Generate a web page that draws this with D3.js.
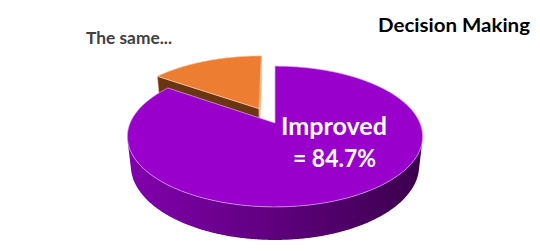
<!DOCTYPE html>
<html><head><meta charset="utf-8">
<script src="https://cdn.jsdelivr.net/npm/d3@7"></script>
<style>html,body{margin:0;padding:0;background:#fff;}svg{display:block;}</style>
</head><body>
<svg id="chart" width="540" height="251"></svg>
<script>
// ---- data ----
const categories = ["Improved", "The same..."];
const values = [84.7, 15.3];
const labelLines = [["Improved", "= 84.7%"], ["The same..."]];
const explode = [0, 0.25];
const title = "Decision Making";

// ---- projection (3D pie with perspective) ----
const W = 540, H = 251;
const cx = 275, cy = 123;
const phi = 27.9 * Math.PI / 180;
const sphi = Math.sin(phi), cphi = Math.cos(phi);
const D = 4.61, K = 668, depth = 0.23;
const rScale = d3.scaleLinear().domain([0, 1]).range([0, 1]);

function proj(X, Y, Z) {
  const d = Y * cphi - Z * sphi + D;
  const v = Y * sphi + Z * cphi;
  return [cx + K * X / d, cy - K * v / d];
}
function pt(a, r, off, Z) {
  const X = off[0] + rScale(r) * Math.sin(a);
  const Y = off[1] + rScale(r) * Math.cos(a);
  return proj(X, Y, Z);
}

const svg = d3.select("#chart");
const defs = svg.append("defs");
const g1 = defs.append("linearGradient").attr("id", "sideGrad")
  .attr("gradientUnits", "userSpaceOnUse").attr("x1", 128).attr("x2", 422).attr("y1", 0).attr("y2", 0);
g1.append("stop").attr("offset", 0).attr("stop-color", "#8200ad");
g1.append("stop").attr("offset", 0.45).attr("stop-color", "#620082");
g1.append("stop").attr("offset", 1).attr("stop-color", "#3b004c");

const topColors = ["#9900cc", "#ed7d31"];
const sideColors = ["url(#sideGrad)", "#6b3413"];

const pie = d3.pie().sort(null).value(d => d).startAngle(0).endAngle(2 * Math.PI);
const arcs = pie(values).map((a, i) => {
  const mid = (a.startAngle + a.endAngle) / 2;
  const off = [explode[i] * Math.sin(mid), explode[i] * Math.cos(mid)];
  return Object.assign(a, { i, off });
});

function polyPath(points) {
  return d3.line()(points) + "Z";
}
function rimPoints(a0, a1, off, Z) {
  const n = Math.max(2, Math.ceil((a1 - a0) / 0.01));
  const pts = [];
  for (let k = 0; k <= n; k++) pts.push(pt(a0 + (a1 - a0) * k / n, 1, off, Z));
  return pts;
}

// draw far slices first (orange), then purple
const order = [1, 0];
order.forEach(idx => {
  const a = arcs[idx];
  const gg = svg.append("g");
  const off = a.off;
  const apexT = proj(off[0], off[1], 0), apexB = proj(off[0], off[1], -depth);
  // radial faces: visible if facing the camera
  [[a.endAngle, +1], [a.startAngle, -1]].forEach(([ang, sgn]) => {
    // normal of face at angle ang
    const nx = sgn * Math.cos(ang), ny = -sgn * Math.sin(ang);
    const camY = -D * cphi;
    const px = off[0], py = off[1];
    const dot = nx * (0 - px) + ny * (camY - py);
    if (dot > 0.001 && (a.endAngle - a.startAngle) < Math.PI) {
      const rt = pt(ang, 1, off, 0), rb = pt(ang, 1, off, -depth);
      gg.append("path").attr("d", polyPath([apexT, rt, rb, apexB]))
        .attr("fill", idx === 1 ? (sgn > 0 ? "#f3a26c" : sideColors[1]) : sideColors[0])
        .attr("stroke", idx === 1 ? "#f6c7a5" : "#c98ee0").attr("stroke-width", 0.6);
    }
  });
  // outer curved side, front-facing portion
  const lim = Math.acos(-1 / (D * cphi));
  const lo = Math.max(a.startAngle, lim), hi = Math.min(a.endAngle, 2 * Math.PI - lim);
  if (hi > lo) {
    const topR = rimPoints(lo, hi, off, 0);
    const botR = rimPoints(lo, hi, off, -depth).reverse();
    gg.append("path").attr("d", polyPath(topR.concat(botR)))
      .attr("fill", sideColors[idx]);
  }
  // top face
  const rim = rimPoints(a.startAngle, a.endAngle, off, 0);
  gg.append("path").attr("d", polyPath([apexT].concat(rim)))
    .attr("fill", topColors[idx])
    .attr("stroke", idx === 0 ? "#dcaaf0" : "#f7c9a6").attr("stroke-width", 0.7);
});

// ---- labels ----
const font = "Lato, 'Open Sans', sans-serif";
svg.append("text").attr("x", 334).attr("y", 135).attr("text-anchor", "middle")
  .attr("font-family", font).attr("font-weight", 700).attr("font-size", 24)
  .attr("fill", "#ffffff").attr("textLength", 106).attr("lengthAdjust", "spacingAndGlyphs")
  .text(labelLines[0][0]);
svg.append("text").attr("x", 334.5).attr("y", 167).attr("text-anchor", "middle")
  .attr("font-family", font).attr("font-weight", 700).attr("font-size", 24)
  .attr("fill", "#ffffff").attr("textLength", 83).attr("lengthAdjust", "spacingAndGlyphs")
  .text(labelLines[0][1]);
svg.append("text").attr("x", 86).attr("y", 44)
  .attr("font-family", font).attr("font-weight", 700).attr("font-size", 17)
  .attr("fill", "#404040").attr("textLength", 86).attr("lengthAdjust", "spacingAndGlyphs")
  .text(labelLines[1][0]);
svg.append("text").attr("x", 378).attr("y", 32)
  .attr("font-family", font).attr("font-weight", 700).attr("font-size", 19)
  .attr("fill", "#000000").attr("textLength", 152).attr("lengthAdjust", "spacingAndGlyphs")
  .text(title);
</script>
</body></html>
